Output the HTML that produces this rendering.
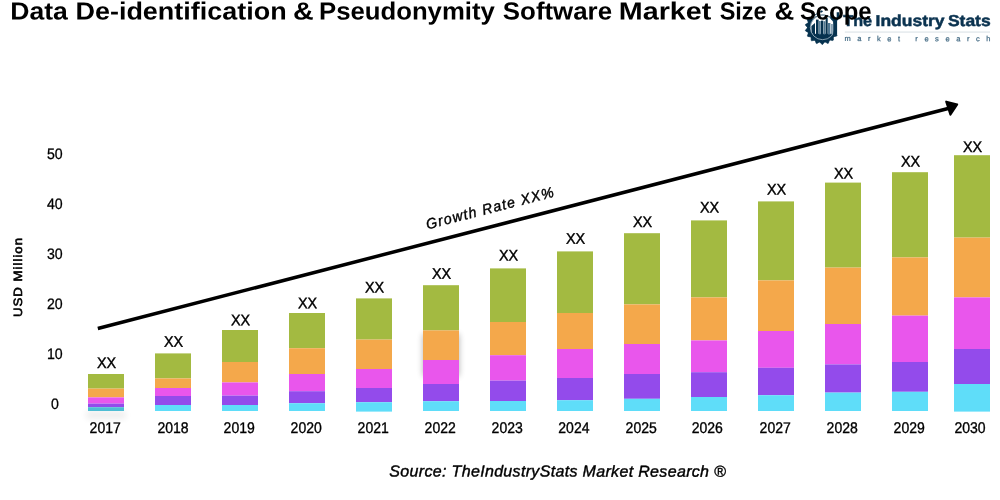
<!DOCTYPE html>
<html><head><meta charset="utf-8"><title>Chart</title>
<style>
html,body{margin:0;padding:0;background:#fff;}
body{width:1000px;height:500px;overflow:hidden;font-family:"Liberation Sans",sans-serif;}
svg{display:block;will-change:transform}
text{font-family:"Liberation Sans",sans-serif;fill:#000;text-rendering:geometricPrecision}
</style></head><body>
<svg width="1000" height="500" viewBox="0 0 1000 500">
<defs>
<filter id="sh" x="-50%" y="-50%" width="200%" height="200%"><feGaussianBlur stdDeviation="3.4"/></filter>
</defs>
<rect width="1000" height="500" fill="#fff"/>

<g id="logo">
<polygon points="-2.4,-14.4 -0.35,-16.9 0.35,-16.9 2.4,-14.4" fill="#06324f" stroke="#06324f" stroke-width="0.6" stroke-linejoin="round" transform="translate(822.1,27.5) rotate(119.3)"/>
<polygon points="-2.4,-14.4 -0.35,-16.9 0.35,-16.9 2.4,-14.4" fill="#06324f" stroke="#06324f" stroke-width="0.6" stroke-linejoin="round" transform="translate(822.1,27.5) rotate(139.3)"/>
<polygon points="-2.4,-14.4 -0.35,-16.9 0.35,-16.9 2.4,-14.4" fill="#06324f" stroke="#06324f" stroke-width="0.6" stroke-linejoin="round" transform="translate(822.1,27.5) rotate(159.3)"/>
<polygon points="-2.4,-14.4 -0.35,-16.9 0.35,-16.9 2.4,-14.4" fill="#06324f" stroke="#06324f" stroke-width="0.6" stroke-linejoin="round" transform="translate(822.1,27.5) rotate(179.3)"/>
<polygon points="-2.4,-14.4 -0.35,-16.9 0.35,-16.9 2.4,-14.4" fill="#06324f" stroke="#06324f" stroke-width="0.6" stroke-linejoin="round" transform="translate(822.1,27.5) rotate(199.3)"/>
<polygon points="-2.4,-14.4 -0.35,-16.9 0.35,-16.9 2.4,-14.4" fill="#06324f" stroke="#06324f" stroke-width="0.6" stroke-linejoin="round" transform="translate(822.1,27.5) rotate(219.3)"/>
<polygon points="-2.4,-14.4 -0.35,-16.9 0.35,-16.9 2.4,-14.4" fill="#06324f" stroke="#06324f" stroke-width="0.6" stroke-linejoin="round" transform="translate(822.1,27.5) rotate(239.3)"/>
<polygon points="-2.4,-14.4 -0.35,-16.9 0.35,-16.9 2.4,-14.4" fill="#06324f" stroke="#06324f" stroke-width="0.6" stroke-linejoin="round" transform="translate(822.1,27.5) rotate(259.3)"/>
<polygon points="-2.4,-14.4 -0.35,-16.9 0.35,-16.9 2.4,-14.4" fill="#06324f" stroke="#06324f" stroke-width="0.6" stroke-linejoin="round" transform="translate(822.1,27.5) rotate(279.3)"/>
<polygon points="-2.4,-14.4 -0.35,-16.9 0.35,-16.9 2.4,-14.4" fill="#06324f" stroke="#06324f" stroke-width="0.6" stroke-linejoin="round" transform="translate(822.1,27.5) rotate(299.3)"/>
<path d="M836.77,30.62 A15,15 0 1 1 810.95,17.46 L822.1,27.5 Z" fill="#06324f"/>
<circle cx="822.6" cy="27.4" r="12.8" fill="#06324f"/>
<clipPath id="lc"><circle cx="822.6" cy="27.4" r="11.850000000000001"/></clipPath>
<g clip-path="url(#lc)"><rect x="805" y="10" width="36" height="23.8" fill="#fff"/>
<rect x="816.0" y="19.6" width="2.6" height="14.899999999999999" fill="#06324f"/>
<rect x="819.1" y="21.0" width="1.6" height="13.5" fill="#4d7590"/>
<rect x="821.0" y="20.6" width="2.3" height="13.899999999999999" fill="#06324f"/>
<rect x="823.6" y="21.2" width="1.7" height="13.3" fill="#4d7590"/>
<rect x="825.6" y="18.0" width="2.1" height="16.5" fill="#06324f"/>
<rect x="828.0" y="23.0" width="2.4" height="11.5" fill="#4d7590"/>
<rect x="831.3" y="24.0" width="1.3" height="10.5" fill="#4d7590"/>
<polygon points="811.4,26.0 815.0,23.0 815.0,34.5 811.4,34.5" fill="#06324f"/>
</g>
<circle cx="822.6" cy="27.4" r="12.3" fill="none" stroke="#b9cad6" stroke-width="0.7"/>
<path d="M809.6,21.8 Q813.2,14.6 821.0,11.7" fill="none" stroke="#06324f" stroke-width="1.0"/>
<polygon points="820.3,11.3 821.9,10.2 823.0,11.6 821.4,12.7" fill="#06324f"/>
<path d="M830.3,12.2 v4.6 a4.45,4.45 0 0 0 8.9,0 v-4.6 h-2.5 v4.6 a1.95,1.95 0 0 1 -3.9,0 v-4.6 z" fill="#06324f"/>
<rect x="833.2" y="19.5" width="3.9" height="15.2" rx="0.6" fill="#06324f"/>
<text transform="translate(843.3,26.0) rotate(0.05) scale(1.0241,1)" font-size="15.8" font-weight="bold" style="fill:#0b3350" stroke="#0b3350" stroke-width="0.5">The</text>
<text transform="translate(875.59,26.0) rotate(0.05) scale(1.1061,1)" font-size="15.8" font-weight="bold" style="fill:#0b3350" stroke="#0b3350" stroke-width="0.5">Industry</text>
<text transform="translate(947.91,26.0) rotate(0.05) scale(1.1067,1)" font-size="15.8" font-weight="bold" style="fill:#0b3350" stroke="#0b3350" stroke-width="0.5">Stats</text>
<text transform="translate(844.4,41.1) rotate(0.05)" font-size="7.5" letter-spacing="6.56" style="fill:#3f6781" stroke="#3f6781" stroke-width="0.2">market research</text>
<rect x="844.8" y="31.6" width="145.2" height="0.9" fill="#d3dce2"/>
</g>
<text transform="translate(10.22,19.45) rotate(0.05) scale(1.0763,1)" font-size="24.7" font-weight="bold">Data</text>
<text transform="translate(75.49,19.45) rotate(0.05) scale(1.0916,1)" font-size="24.7" font-weight="bold">De-identification</text>
<text transform="translate(292.97,19.45) rotate(0.05) scale(1.158,1)" font-size="24.7" font-weight="bold">&amp;</text>
<text transform="translate(318.98,19.45) rotate(0.05) scale(1.0419,1)" font-size="24.7" font-weight="bold">Pseudonymity</text>
<text transform="translate(502.85,19.45) rotate(0.05) scale(1.0474,1)" font-size="24.7" font-weight="bold">Software</text>
<text transform="translate(618.78,19.45) rotate(0.05) scale(1.1633,1)" font-size="24.7" font-weight="bold">Market</text>
<text transform="translate(719.66,19.45) rotate(0.05) scale(0.9519,1)" font-size="24.7" font-weight="bold">Size</text>
<text transform="translate(774.43,19.45) rotate(0.05) scale(1.1077,1)" font-size="24.7" font-weight="bold">&amp;</text>
<text transform="translate(799.94,19.45) rotate(0.05) scale(0.9669,1)" font-size="24.7" font-weight="bold">Scope</text>
<text transform="translate(54.8,158.9) rotate(0.05) scale(0.93,1)" font-size="15.2" text-anchor="middle" stroke="#000" stroke-width="0.3">50</text>
<text transform="translate(54.8,208.9) rotate(0.05) scale(0.93,1)" font-size="15.2" text-anchor="middle" stroke="#000" stroke-width="0.3">40</text>
<text transform="translate(54.8,258.9) rotate(0.05) scale(0.93,1)" font-size="15.2" text-anchor="middle" stroke="#000" stroke-width="0.3">30</text>
<text transform="translate(54.8,308.9) rotate(0.05) scale(0.93,1)" font-size="15.2" text-anchor="middle" stroke="#000" stroke-width="0.3">20</text>
<text transform="translate(54.8,358.9) rotate(0.05) scale(0.93,1)" font-size="15.2" text-anchor="middle" stroke="#000" stroke-width="0.3">10</text>
<text transform="translate(54.8,408.9) rotate(0.05) scale(0.93,1)" font-size="15.2" text-anchor="middle" stroke="#000" stroke-width="0.3">0</text>
<text transform="translate(22,277) rotate(-90) scale(1.1,1)" font-size="12" text-anchor="middle" letter-spacing="0.93" stroke="#000" stroke-width="0.6">USD Million</text>
<rect x="86" y="411" width="40" height="8" fill="#000" opacity="0.065" filter="url(#sh)"/>
<rect x="423" y="334" width="36" height="42" fill="#000" opacity="0.3" filter="url(#sh)"/>
<rect x="88" y="374" width="36" height="14.6" fill="#a3ba41"/>
<rect x="88" y="388.6" width="36" height="8.8" fill="#f4a84b"/>
<rect x="88" y="397.4" width="36" height="6.2" fill="#e956ec"/>
<rect x="88" y="403.6" width="36" height="3.6" fill="#934beb"/>
<rect x="88" y="407.2" width="36" height="3.8" fill="#4fbdd4"/>
<text transform="translate(106.6,367.95) rotate(0.05) scale(0.933,1)" font-size="15.4" text-anchor="middle" stroke="#000" stroke-width="0.4">XX</text>
<text transform="translate(105.2,432.9) rotate(0.05) scale(0.91,1)" font-size="15.4" text-anchor="middle" stroke="#000" stroke-width="0.35">2017</text>
<rect x="155" y="353.4" width="36" height="25.0" fill="#a3ba41"/>
<rect x="155" y="378.4" width="36" height="9.6" fill="#f4a84b"/>
<rect x="155" y="388" width="36" height="8" fill="#e956ec"/>
<rect x="155" y="396" width="36" height="9" fill="#934beb"/>
<rect x="155" y="405" width="36" height="6" fill="#5fddf9"/>
<text transform="translate(173.6,346.75) rotate(0.05) scale(0.933,1)" font-size="15.4" text-anchor="middle" stroke="#000" stroke-width="0.4">XX</text>
<text transform="translate(173.0,432.9) rotate(0.05) scale(0.91,1)" font-size="15.4" text-anchor="middle" stroke="#000" stroke-width="0.35">2018</text>
<rect x="222" y="330" width="36" height="32" fill="#a3ba41"/>
<rect x="222" y="362" width="36" height="20.4" fill="#f4a84b"/>
<rect x="222" y="382.4" width="36" height="13.2" fill="#e956ec"/>
<rect x="222" y="395.6" width="36" height="9.4" fill="#934beb"/>
<rect x="222" y="405" width="36" height="6" fill="#5fddf9"/>
<text transform="translate(240.6,325.25) rotate(0.05) scale(0.933,1)" font-size="15.4" text-anchor="middle" stroke="#000" stroke-width="0.4">XX</text>
<text transform="translate(239.2,432.9) rotate(0.05) scale(0.91,1)" font-size="15.4" text-anchor="middle" stroke="#000" stroke-width="0.35">2019</text>
<rect x="289" y="313" width="36" height="35.2" fill="#a3ba41"/>
<rect x="289" y="348.2" width="36" height="25.8" fill="#f4a84b"/>
<rect x="289" y="374" width="36" height="17.2" fill="#e956ec"/>
<rect x="289" y="391.2" width="36" height="12.0" fill="#934beb"/>
<rect x="289" y="403.2" width="36" height="7.8" fill="#5fddf9"/>
<text transform="translate(307.6,308.35) rotate(0.05) scale(0.933,1)" font-size="15.4" text-anchor="middle" stroke="#000" stroke-width="0.4">XX</text>
<text transform="translate(306.2,432.9) rotate(0.05) scale(0.91,1)" font-size="15.4" text-anchor="middle" stroke="#000" stroke-width="0.35">2020</text>
<rect x="356" y="298.4" width="36" height="41.2" fill="#a3ba41"/>
<rect x="356" y="339.6" width="36" height="29.4" fill="#f4a84b"/>
<rect x="356" y="369" width="36" height="19" fill="#e956ec"/>
<rect x="356" y="388" width="36" height="14.2" fill="#934beb"/>
<rect x="356" y="402.2" width="36" height="9.4" fill="#5fddf9"/>
<text transform="translate(374.6,292.55) rotate(0.05) scale(0.933,1)" font-size="15.4" text-anchor="middle" stroke="#000" stroke-width="0.4">XX</text>
<text transform="translate(373.2,432.9) rotate(0.05) scale(0.91,1)" font-size="15.4" text-anchor="middle" stroke="#000" stroke-width="0.35">2021</text>
<rect x="423" y="285.2" width="36" height="45.2" fill="#a3ba41"/>
<rect x="423" y="330.4" width="36" height="29.6" fill="#f4a84b"/>
<rect x="423" y="360" width="36" height="24" fill="#e956ec"/>
<rect x="423" y="384" width="36" height="17.2" fill="#934beb"/>
<rect x="423" y="401.2" width="36" height="9.8" fill="#5fddf9"/>
<text transform="translate(441.6,278.65) rotate(0.05) scale(0.933,1)" font-size="15.4" text-anchor="middle" stroke="#000" stroke-width="0.4">XX</text>
<text transform="translate(440.2,432.9) rotate(0.05) scale(0.91,1)" font-size="15.4" text-anchor="middle" stroke="#000" stroke-width="0.35">2022</text>
<rect x="490" y="268.4" width="36" height="53.6" fill="#a3ba41"/>
<rect x="490" y="322" width="36" height="33.2" fill="#f4a84b"/>
<rect x="490" y="355.2" width="36" height="25.4" fill="#e956ec"/>
<rect x="490" y="380.6" width="36" height="20.4" fill="#934beb"/>
<rect x="490" y="401" width="36" height="10" fill="#5fddf9"/>
<text transform="translate(508.6,260.55) rotate(0.05) scale(0.933,1)" font-size="15.4" text-anchor="middle" stroke="#000" stroke-width="0.4">XX</text>
<text transform="translate(507.2,432.9) rotate(0.05) scale(0.91,1)" font-size="15.4" text-anchor="middle" stroke="#000" stroke-width="0.35">2023</text>
<rect x="557" y="251.4" width="36" height="61.6" fill="#a3ba41"/>
<rect x="557" y="313" width="36" height="36" fill="#f4a84b"/>
<rect x="557" y="349" width="36" height="29" fill="#e956ec"/>
<rect x="557" y="378" width="36" height="22.2" fill="#934beb"/>
<rect x="557" y="400.2" width="36" height="10.8" fill="#5fddf9"/>
<text transform="translate(575.6,243.65) rotate(0.05) scale(0.933,1)" font-size="15.4" text-anchor="middle" stroke="#000" stroke-width="0.4">XX</text>
<text transform="translate(573.9000000000001,432.9) rotate(0.05) scale(0.91,1)" font-size="15.4" text-anchor="middle" stroke="#000" stroke-width="0.35">2024</text>
<rect x="624" y="233.2" width="36" height="71.2" fill="#a3ba41"/>
<rect x="624" y="304.4" width="36" height="39.6" fill="#f4a84b"/>
<rect x="624" y="344" width="36" height="30" fill="#e956ec"/>
<rect x="624" y="374" width="36" height="24.8" fill="#934beb"/>
<rect x="624" y="398.8" width="36" height="12.2" fill="#5fddf9"/>
<text transform="translate(642.6,226.95) rotate(0.05) scale(0.933,1)" font-size="15.4" text-anchor="middle" stroke="#000" stroke-width="0.4">XX</text>
<text transform="translate(641.2,432.9) rotate(0.05) scale(0.91,1)" font-size="15.4" text-anchor="middle" stroke="#000" stroke-width="0.35">2025</text>
<rect x="691" y="220.4" width="36" height="77.0" fill="#a3ba41"/>
<rect x="691" y="297.4" width="36" height="43.0" fill="#f4a84b"/>
<rect x="691" y="340.4" width="36" height="31.8" fill="#e956ec"/>
<rect x="691" y="372.2" width="36" height="24.8" fill="#934beb"/>
<rect x="691" y="397" width="36" height="14" fill="#5fddf9"/>
<text transform="translate(709.6,212.55) rotate(0.05) scale(0.933,1)" font-size="15.4" text-anchor="middle" stroke="#000" stroke-width="0.4">XX</text>
<text transform="translate(707.3000000000001,432.9) rotate(0.05) scale(0.91,1)" font-size="15.4" text-anchor="middle" stroke="#000" stroke-width="0.35">2026</text>
<rect x="758" y="201.4" width="36" height="79.0" fill="#a3ba41"/>
<rect x="758" y="280.4" width="36" height="50.6" fill="#f4a84b"/>
<rect x="758" y="331" width="36" height="36.8" fill="#e956ec"/>
<rect x="758" y="367.8" width="36" height="27.4" fill="#934beb"/>
<rect x="758" y="395.2" width="36" height="15.8" fill="#5fddf9"/>
<text transform="translate(776.6,194.55) rotate(0.05) scale(0.933,1)" font-size="15.4" text-anchor="middle" stroke="#000" stroke-width="0.4">XX</text>
<text transform="translate(775.2,432.9) rotate(0.05) scale(0.91,1)" font-size="15.4" text-anchor="middle" stroke="#000" stroke-width="0.35">2027</text>
<rect x="825" y="182.6" width="36" height="85.0" fill="#a3ba41"/>
<rect x="825" y="267.6" width="36" height="56.4" fill="#f4a84b"/>
<rect x="825" y="324" width="36" height="40.4" fill="#e956ec"/>
<rect x="825" y="364.4" width="36" height="28.2" fill="#934beb"/>
<rect x="825" y="392.6" width="36" height="18.4" fill="#5fddf9"/>
<text transform="translate(843.6,178.55) rotate(0.05) scale(0.933,1)" font-size="15.4" text-anchor="middle" stroke="#000" stroke-width="0.4">XX</text>
<text transform="translate(842.2,432.9) rotate(0.05) scale(0.91,1)" font-size="15.4" text-anchor="middle" stroke="#000" stroke-width="0.35">2028</text>
<rect x="892" y="172.2" width="36" height="85.2" fill="#a3ba41"/>
<rect x="892" y="257.4" width="36" height="58.2" fill="#f4a84b"/>
<rect x="892" y="315.6" width="36" height="46.4" fill="#e956ec"/>
<rect x="892" y="362" width="36" height="29.8" fill="#934beb"/>
<rect x="892" y="391.8" width="36" height="19.2" fill="#5fddf9"/>
<text transform="translate(910.6,166.55) rotate(0.05) scale(0.933,1)" font-size="15.4" text-anchor="middle" stroke="#000" stroke-width="0.4">XX</text>
<text transform="translate(909.2,432.9) rotate(0.05) scale(0.91,1)" font-size="15.4" text-anchor="middle" stroke="#000" stroke-width="0.35">2029</text>
<rect x="954" y="155.2" width="36" height="82.4" fill="#a3ba41"/>
<rect x="954" y="237.6" width="36" height="59.8" fill="#f4a84b"/>
<rect x="954" y="297.4" width="36" height="51.6" fill="#e956ec"/>
<rect x="954" y="349" width="36" height="35" fill="#934beb"/>
<rect x="954" y="384" width="36" height="27.6" fill="#5fddf9"/>
<text transform="translate(972.6,152.05) rotate(0.05) scale(0.933,1)" font-size="15.4" text-anchor="middle" stroke="#000" stroke-width="0.4">XX</text>
<text transform="translate(970.0,432.9) rotate(0.05) scale(0.91,1)" font-size="15.4" text-anchor="middle" stroke="#000" stroke-width="0.35">2030</text>
<line x1="97.8" y1="328.5" x2="950" y2="108.0" stroke="#000" stroke-width="3.5"/>
<polygon points="957.2,104.4 946.2,101.6 950.4,114.8" fill="#000" stroke="#000" stroke-width="2" stroke-linejoin="round"/>
<text transform="translate(491.6,212.8) rotate(-14.5) scale(0.955,1)" font-size="14.7" font-style="italic" text-anchor="middle" letter-spacing="1.3" stroke="#000" stroke-width="0.4">Growth Rate XX%</text>
<text transform="translate(557.8,476.6) rotate(0.05)" text-anchor="middle" font-size="16" font-style="italic" letter-spacing="0.33" stroke="#000" stroke-width="0.4">Source: TheIndustryStats Market Research ®</text>
</svg></body></html>
